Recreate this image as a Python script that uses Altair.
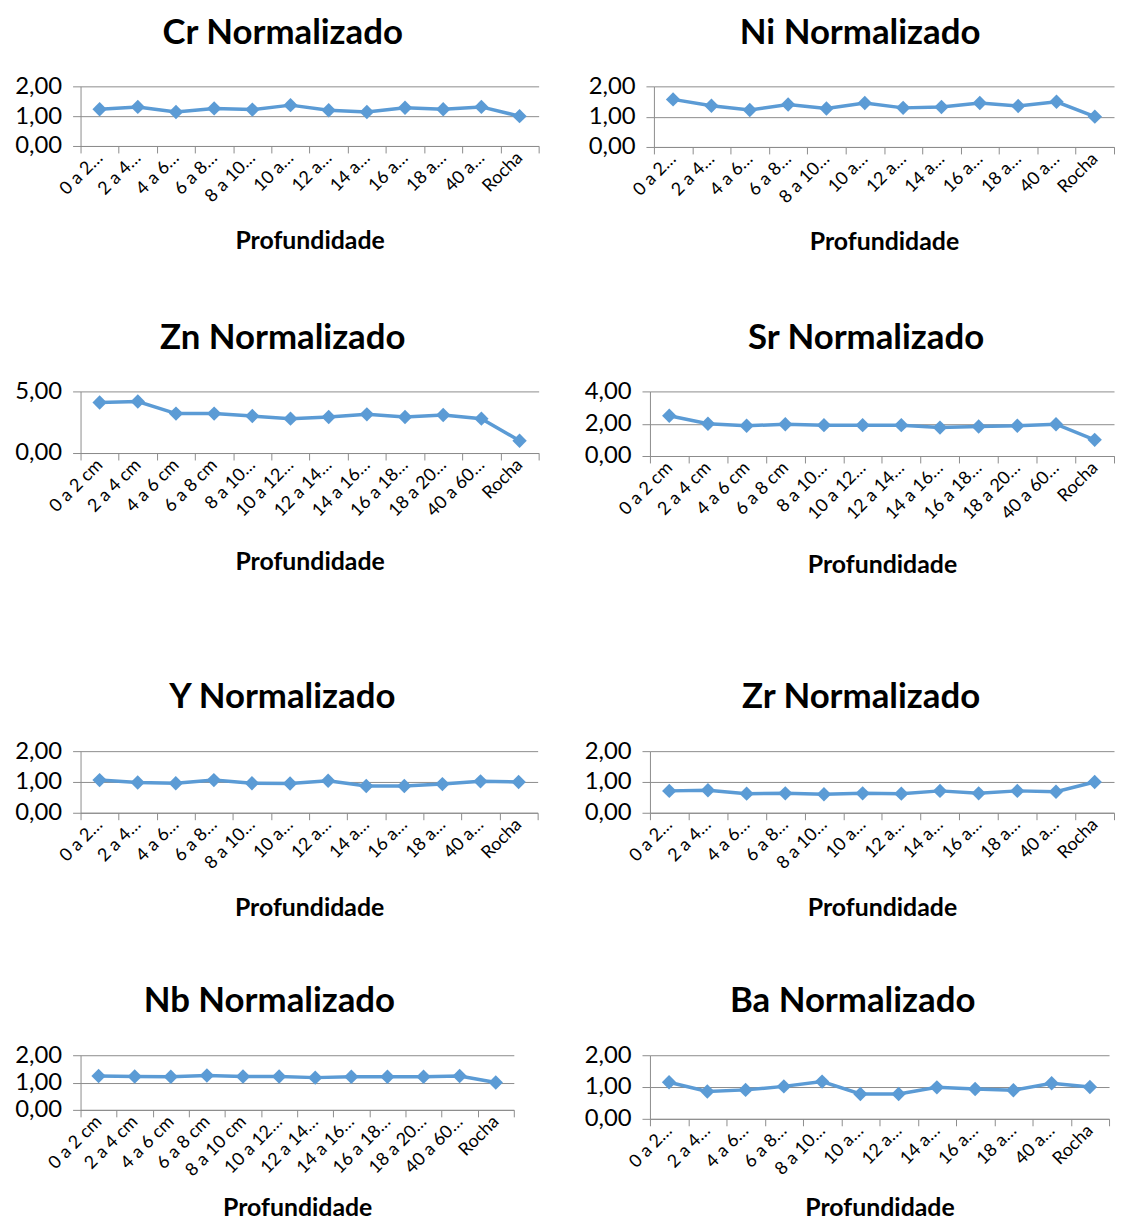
import altair as alt
import pandas as pd

categories = ["0 a 2 cm", "2 a 4 cm", "4 a 6 cm", "6 a 8 cm", "8 a 10 cm", "10 a 12 cm",
              "12 a 14 cm", "14 a 16 cm", "16 a 18 cm", "18 a 20 cm", "40 a 60 cm", "Rocha"]

labels_short = ["0 a 2…", "2 a 4…", "4 a 6…", "6 a 8…", "8 a 10…", "10 a…",
                "12 a…", "14 a…", "16 a…", "18 a…", "40 a…", "Rocha"]
labels_mid = ["0 a 2 cm", "2 a 4 cm", "4 a 6 cm", "6 a 8 cm", "8 a 10…", "10 a 12…",
              "12 a 14…", "14 a 16…", "16 a 18…", "18 a 20…", "40 a 60…", "Rocha"]
labels_long = ["0 a 2 cm", "2 a 4 cm", "4 a 6 cm", "6 a 8 cm", "8 a 10 cm", "10 a 12…",
               "12 a 14…", "14 a 16…", "16 a 18…", "18 a 20…", "40 a 60…", "Rocha"]

cr = [1.23, 1.31, 1.14, 1.26, 1.22, 1.37, 1.20, 1.14, 1.28, 1.23, 1.31, 1.00]
ni = [1.57, 1.36, 1.22, 1.40, 1.27, 1.45, 1.29, 1.32, 1.45, 1.35, 1.49, 1.00]
zn = [4.10, 4.18, 3.20, 3.20, 3.00, 2.79, 2.92, 3.14, 2.92, 3.09, 2.79, 1.00]
sr = [2.49, 2.00, 1.87, 1.97, 1.91, 1.91, 1.91, 1.76, 1.83, 1.87, 1.97, 1.00]
yv = [1.06, 0.98, 0.96, 1.06, 0.96, 0.95, 1.04, 0.87, 0.87, 0.93, 1.02, 1.00]
zr = [0.71, 0.73, 0.62, 0.63, 0.60, 0.63, 0.62, 0.71, 0.63, 0.71, 0.68, 1.00]
nb = [1.24, 1.22, 1.21, 1.26, 1.22, 1.22, 1.18, 1.21, 1.21, 1.21, 1.24, 1.00]
ba = [1.15, 0.86, 0.91, 1.02, 1.17, 0.78, 0.78, 0.99, 0.94, 0.90, 1.12, 1.00]

GRAY = "#8c8c8c"
BLUE = "#5B9BD5"
FONT = "Lato"


def panel(name, values, labels, yticks, w, h, title_y, title_dx):
    df = pd.DataFrame({"Profundidade": categories, "valor": values})
    arr_labels = "[" + ",".join("'" + s + "'" for s in labels) + "]"
    arr_cats = "[" + ",".join("'" + s + "'" for s in categories) + "]"
    label_expr = arr_labels + "[indexof(" + arr_cats + ", datum.value)]"
    x = alt.X(
        "Profundidade:N",
        sort=categories,
        bandPosition=0.5,
        scale=alt.Scale(type="band", paddingInner=0, paddingOuter=0),
        axis=alt.Axis(
            title="Profundidade",
            labelExpr=label_expr,
            labelAngle=-45,
            labelAlign="right",
            labelBaseline="middle",
            labelFont=FONT,
            labelFontSize=18,
            labelColor="black",
            labelPadding=2,
            labelOverlap=False,
            tickBand="extent",
            tickSize=7,
            tickColor=GRAY,
            domainColor=GRAY,
            titleFont=FONT,
            titleFontSize=25,
            titleFontWeight="bold",
            titleColor="black",
            titleY=title_y,
            titleBaseline="middle",
            grid=False,
        ),
    )
    y = alt.Y(
        "valor:Q",
        scale=alt.Scale(domain=[yticks[0], yticks[-1]], nice=False, zero=True),
        axis=alt.Axis(
            title=None,
            values=yticks,
            labelExpr="replace(format(datum.value, '.2f'), '.', ',')",
            labelFont=FONT,
            labelFontSize=24,
            labelColor="black",
            labelPadding=11,
            tickSize=8,
            tickColor=GRAY,
            domainColor=GRAY,
            gridColor=GRAY,
            grid=True,
        ),
    )
    return (
        alt.Chart(df)
        .mark_line(
            color=BLUE,
            strokeWidth=3.5,
            point=alt.OverlayMarkDef(shape="diamond", size=210, filled=True, color=BLUE, opacity=1),
        )
        .encode(x=x, y=y)
        .properties(
            width=w,
            height=h,
            title=alt.TitleParams(
                text=name + " Normalizado",
                font=FONT,
                fontSize=35,
                fontWeight="bold",
                color="black",
                anchor="middle",
                offset=24,
                dx=title_dx,
            ),
        )
    )


p_cr = panel("Cr", cr, labels_short, [0, 1, 2], 461, 60, 95, -27)
p_ni = panel("Ni", ni, labels_short, [0, 1, 2], 463, 61, 95, -24)
p_zn = panel("Zn", zn, labels_mid, [0, 5], 461, 62, 109, -27)
p_sr = panel("Sr", sr, labels_mid, [0, 2, 4], 467, 65, 109, -16)
p_y = panel("Y", yv, labels_short, [0, 1, 2], 460, 62, 95, -27)
p_zr = panel("Zr", zr, labels_short, [0, 1, 2], 467, 62, 95, -21)
p_nb = panel("Nb", nb, labels_long, [0, 1, 2], 436, 55, 98, -28)
p_ba = panel("Ba", ba, labels_short, [0, 1, 2], 462, 64, 89, -27)

row1 = alt.hconcat(p_cr, p_ni, spacing=48)
row2 = alt.hconcat(p_zn, p_sr, spacing=44)
row3 = alt.hconcat(p_y, p_zr, spacing=45)
row4 = alt.hconcat(p_nb, p_ba, spacing=69)

top = alt.vconcat(row1, row2, spacing=67)
bottom = alt.vconcat(row3, row4, spacing=65)

chart = (
    alt.vconcat(top, bottom, spacing=104)
    .properties(padding={"left": 6, "top": 4, "right": 0, "bottom": 0})
    .configure_view(stroke=None)
)

chart.save("out.html", embed_options={"renderer": "svg", "actions": False})
